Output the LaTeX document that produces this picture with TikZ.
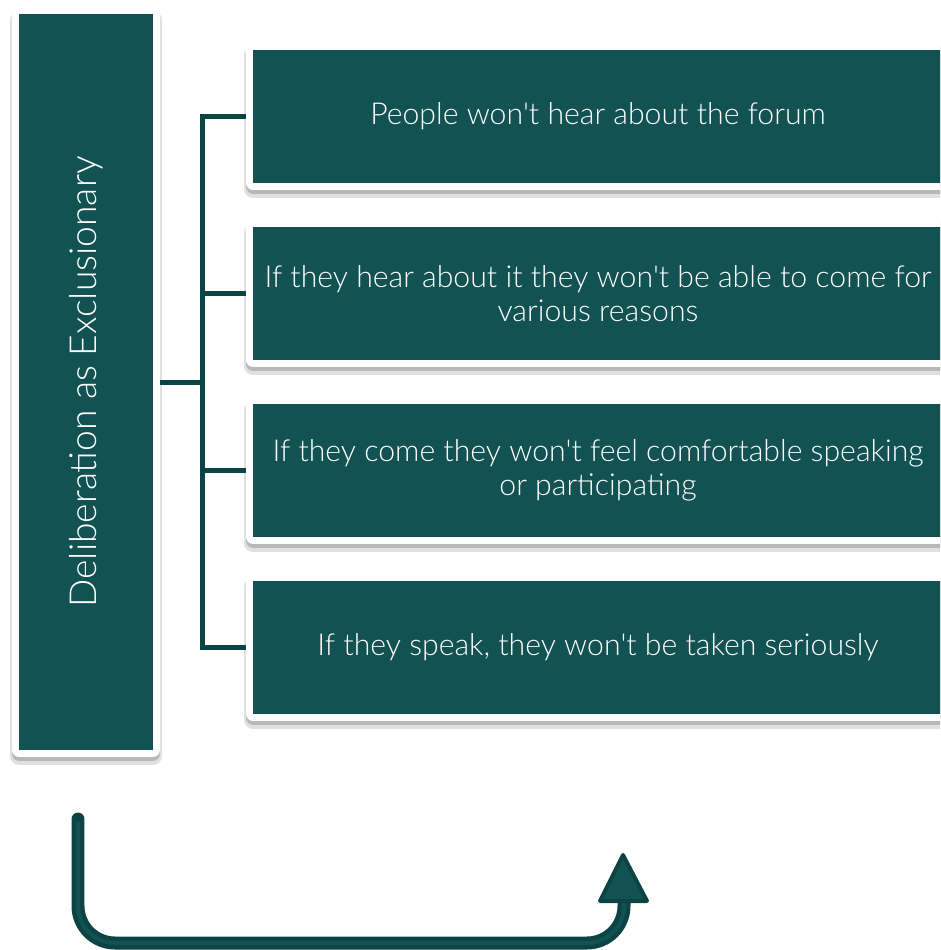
\documentclass[tikz,border=0pt]{standalone}
\usepackage{fontspec}
\setmainfont{Lato}[UprightFont=* Light, Ligatures=TeXOff]
\usetikzlibrary{shadows}
\usetikzlibrary{positioning}
\definecolor{deepteal}{RGB}{18,82,82}
\definecolor{darkteal}{RGB}{12,68,68}

\begin{document}
\begin{tikzpicture}[x=0.02cm, y=-0.02cm]
        % Define styles for shapes
        \tikzstyle{card} = [fill=deepteal, text=white, inner sep=0pt, outer sep=0.14cm,
            preaction={draw=black!12, line width=0.36cm, line join=round, transform canvas={yshift=-0.12cm}},
            preaction={draw=black!28, line width=0.3cm, line join=round, transform canvas={yshift=-0.07cm}},
            preaction={draw=white, line width=0.28cm, line join=round}]
        \tikzstyle{reason} = [card, minimum width=13.8cm, minimum height=2.66cm, align=center,
            font=\fontsize{17.2}{19.5}\selectfont]
        \tikzstyle{link} = [draw=darkteal, line width=0.1cm]
        \useasboundingbox (0,0) rectangle (940,950);
        \clip (0,0) rectangle (940,950);

        % Draw shapes
        \node[card, minimum width=2.68cm, minimum height=14.72cm, font=\fontsize{21.2}{24}\selectfont] (main) at (86,382)
            {\rotatebox{90}{Deliberation as Exclusionary}};
        \node[reason] (hear) at (598,116.5) {People won't hear about the forum};
        \node[reason] (come) at (598,293.5)
            {If they hear about it they won't be able to come for\\various reasons};
        \node[reason] (speak) at (598,470.5)
            {If they come they won't feel comfortable speaking\\or participating};
        \node[reason] (heard) at (598,647.5) {If they speak, they won't be taken seriously};

        % Draw connectors
        \foreach \target in {hear, come, speak, heard}
            \draw[link] (main.east) -- ++(43,0) |- (\target.west);

        % Draw the bent arrow
        \coordinate (start) at (78,819);
        \coordinate (bend) at (624,943);
        \coordinate (finish) at (624,900);
        \draw[darkteal, line width=0.26cm, line cap=round, rounded corners=0.74cm] (start) |- (bend) -- (finish);
        \draw[deepteal, line width=0.08cm, rounded corners=0.74cm] (78,822) |- (bend) -- (finish);
        \draw[darkteal, fill=deepteal, line width=0.08cm, line join=round] (623,855) -- (647,901) -- (600,901) -- cycle;
    \end{tikzpicture}
\end{document}
